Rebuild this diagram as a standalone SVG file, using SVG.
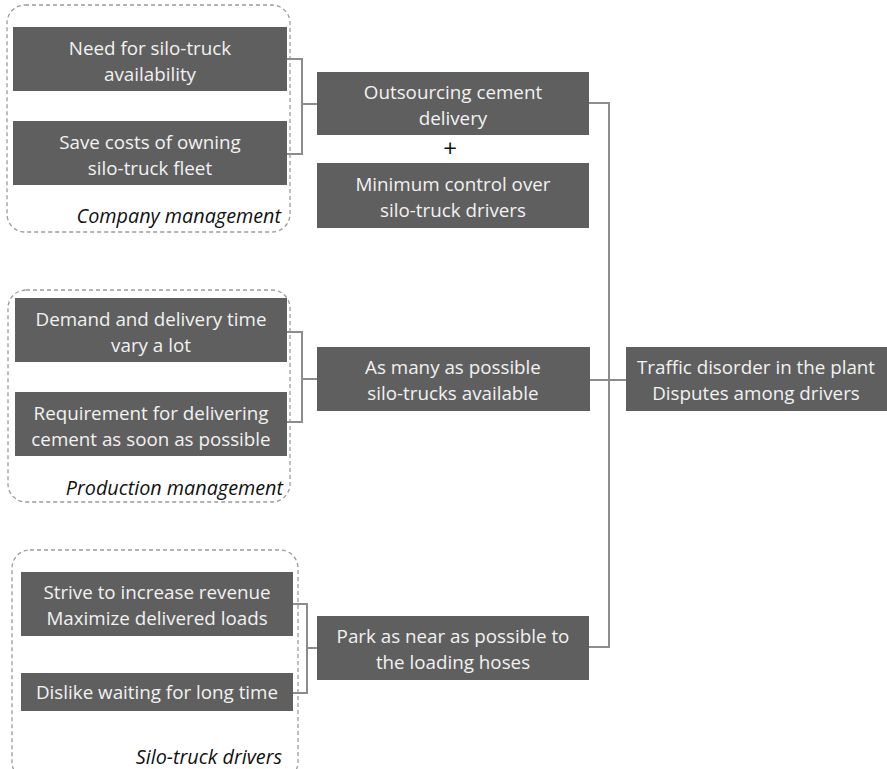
<svg xmlns="http://www.w3.org/2000/svg" width="887" height="769" viewBox="0 0 887 769">
<style>
.grp{fill:none;stroke:#9a9a9a;stroke-width:1.3;stroke-dasharray:4 3}
.box{fill:#5f5f5f}
.t{font-family:"Open Sans","Liberation Sans",sans-serif;font-size:18.8px;fill:#f2f2f2;text-anchor:middle}
.lbl{font-family:"Open Sans","Liberation Sans",sans-serif;font-size:19.8px;font-style:italic;fill:#111;text-anchor:end}
.c{fill:none;stroke:#8c8c8c;stroke-width:2}
</style>
<rect width="887" height="769" fill="#fff"/>
<g id="group-company">
<rect class="grp" x="7" y="5" width="283" height="227" rx="18"/>
<text class="lbl" x="281" y="223">Company management</text>
</g>
<g id="group-production">
<rect class="grp" x="8" y="290" width="282" height="212" rx="18"/>
<text class="lbl" x="283" y="495">Production management</text>
</g>
<g id="group-drivers">
<rect class="grp" x="12" y="550" width="286" height="230" rx="18"/>
<text class="lbl" x="282" y="764">Silo-truck drivers</text>
</g>
<g id="connectors">
<path class="c" d="M287 59H302V154H287M302 104H317"/>
<path class="c" d="M287 332H302V422H287M302 379H317"/>
<path class="c" d="M293 604H307V693H293M307 648H317"/>
<path class="c" d="M589 103H609V647H589M590 380H626"/>
</g>
<g id="n-need"><rect class="box" x="13" y="27" width="274" height="64"/><text class="t" x="150" y="55">Need for silo-truck</text><text class="t" x="150" y="81">availability</text></g>
<g id="n-save"><rect class="box" x="13" y="121" width="274" height="64"/><text class="t" x="150" y="149">Save costs of owning</text><text class="t" x="150" y="175">silo-truck fleet</text></g>
<g id="n-outsourcing"><rect class="box" x="317" y="72" width="272" height="63"/><text class="t" x="453" y="99">Outsourcing cement</text><text class="t" x="453" y="125">delivery</text></g>
<g id="n-plus"><text x="450" y="157" font-family="Open Sans, Liberation Sans, sans-serif" font-size="24" fill="#111" text-anchor="middle">+</text></g>
<g id="n-minimum"><rect class="box" x="317" y="163" width="272" height="65"/><text class="t" x="453" y="191">Minimum control over</text><text class="t" x="453" y="217">silo-truck drivers</text></g>
<g id="n-demand"><rect class="box" x="15" y="298" width="272" height="64"/><text class="t" x="151" y="326">Demand and delivery time</text><text class="t" x="151" y="352">vary a lot</text></g>
<g id="n-requirement"><rect class="box" x="15" y="392" width="272" height="64"/><text class="t" x="151" y="420">Requirement for delivering</text><text class="t" x="151" y="446">cement as soon as possible</text></g>
<g id="n-asmany"><rect class="box" x="317" y="347" width="273" height="64"/><text class="t" x="453" y="374">As many as possible</text><text class="t" x="453" y="400">silo-trucks available</text></g>
<g id="n-traffic"><rect class="box" x="626" y="347" width="261" height="64"/><text class="t" x="756" y="374">Traffic disorder in the plant</text><text class="t" x="756" y="400">Disputes among drivers</text></g>
<g id="n-strive"><rect class="box" x="21" y="572" width="272" height="64"/><text class="t" x="157" y="599">Strive to increase revenue</text><text class="t" x="157" y="625">Maximize delivered loads</text></g>
<g id="n-dislike"><rect class="box" x="21" y="673" width="272" height="38"/><text class="t" x="157" y="699">Dislike waiting for long time</text></g>
<g id="n-park"><rect class="box" x="317" y="616" width="272" height="64"/><text class="t" x="453" y="643">Park as near as possible to</text><text class="t" x="453" y="669">the loading hoses</text></g>
</svg>
